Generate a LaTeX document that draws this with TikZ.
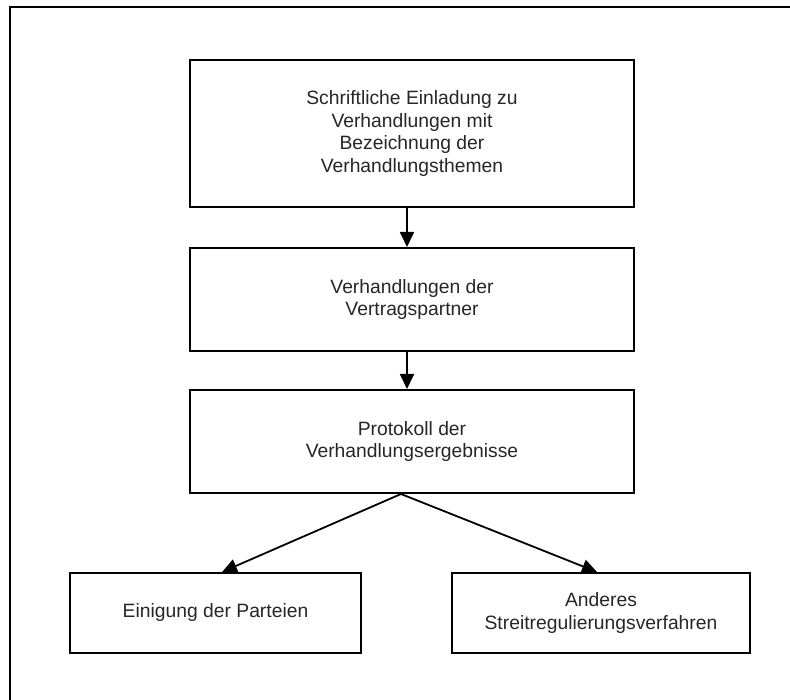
\documentclass[tikz,border=0pt]{standalone}
\usepackage{fontspec}
\setmainfont{Liberation Sans}
\usetikzlibrary{arrows.meta}
\definecolor{txt}{HTML}{262626}
\tikzset{
  box/.style={draw=black, line width=2pt, rectangle, align=center, inner sep=0pt,
    text=txt, font=\fontsize{19.3}{22.6}\selectfont},
  arr/.style={draw=black, line width=1.8pt, -{Triangle[length=15pt,width=14pt]}},
  frame/.style={draw=black, line width=2.4pt}
}
\begin{document}
\begin{tikzpicture}[x=1pt, y=-1pt]
\useasboundingbox (0,0) rectangle (790,700);
% outer frame, running off the right and bottom edges
\begin{scope}
  \clip (0,0) rectangle (790,700);
  \draw[frame] (10,7) rectangle (820,730);
\end{scope}

\node[box, minimum width=444pt, minimum height=147pt] (b1) at (412,133.5)
  {Schriftliche Einladung zu\\Verhandlungen mit\\Bezeichnung der\\Verhandlungsthemen};
\node[box, minimum width=444pt, minimum height=103pt] (b2) at (412,299.5)
  {Verhandlungen der\\Vertragspartner};
\node[box, minimum width=444pt, minimum height=103pt] (b3) at (412,441.5)
  {Protokoll der\\Verhandlungsergebnisse};
\node[box, minimum width=291pt, minimum height=80pt] (b4) at (215.5,613)
  {Einigung der Parteien};
\node[box, minimum width=298pt, minimum height=80pt] (b5) at (601,613)
  {Anderes\\Streitregulierungsverfahren};

\draw[arr] ([xshift=-5pt]b1.south) -- ([xshift=-5pt]b2.north);
\draw[arr] ([xshift=-5pt]b2.south) -- ([xshift=-5pt]b3.north);
\draw[arr] ([xshift=-11pt]b3.south) -- ([xshift=6.5pt]b4.north);
\draw[arr] ([xshift=-11pt]b3.south) -- ([xshift=-4pt]b5.north);
\end{tikzpicture}
\end{document}
